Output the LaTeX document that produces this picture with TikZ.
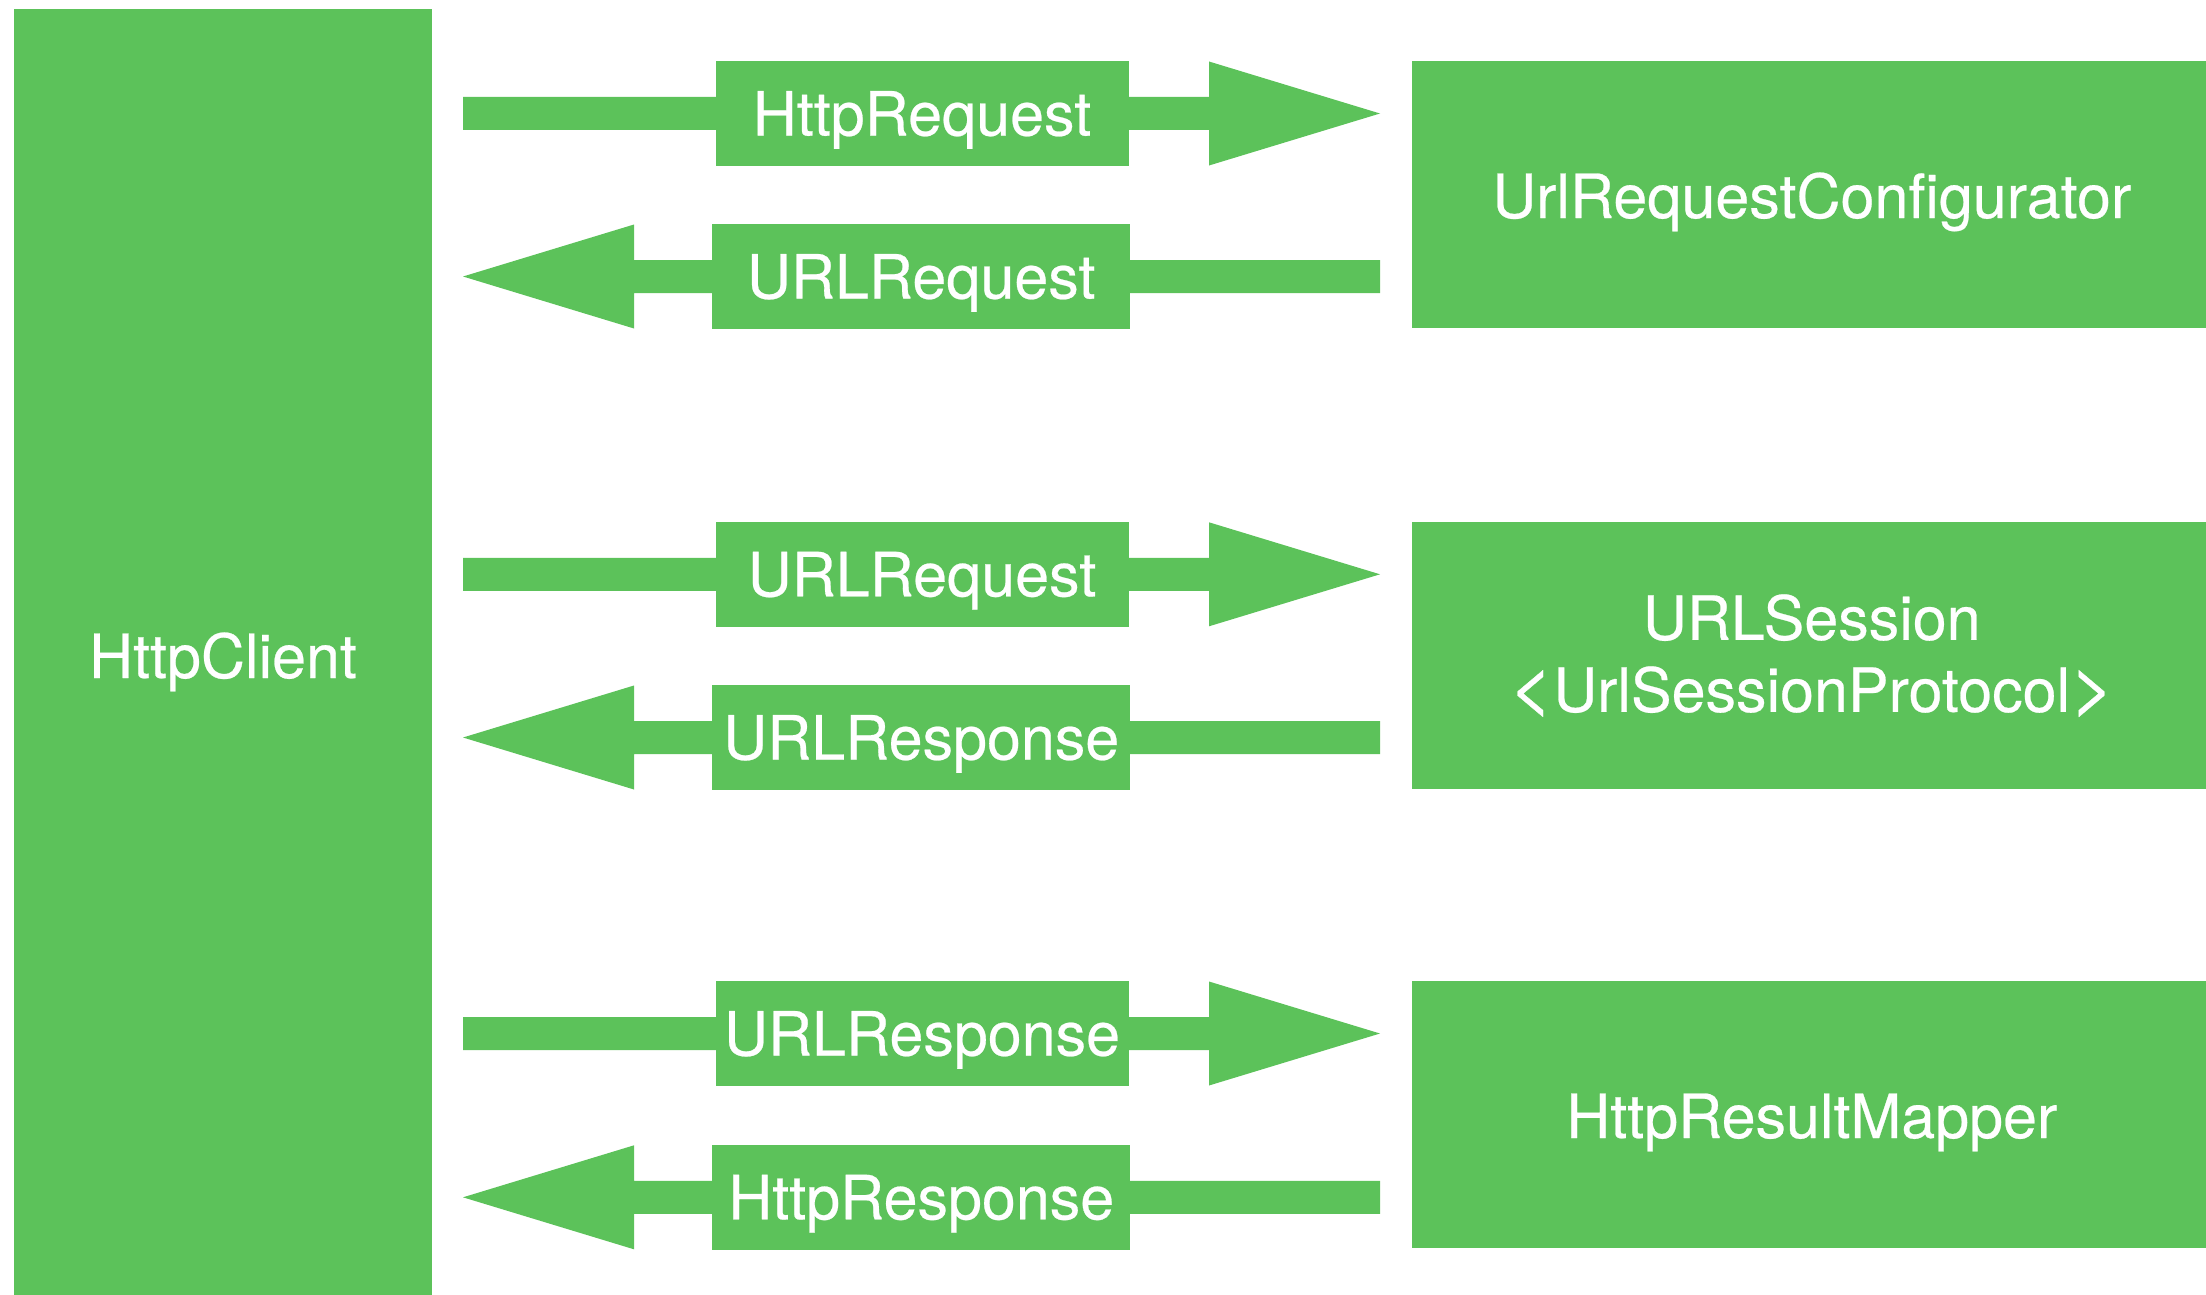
\documentclass[tikz,border=0pt]{standalone}
\usepackage{fontspec}
\setmainfont[FakeBold=0.4]{TeX Gyre Heros}
\usetikzlibrary{calc,backgrounds}
\definecolor{boxgreen}{HTML}{5CC25A}

% forward block arrow: from HttpClient towards a component, along a label
\newcommand\fwdarrow[2]{%
  \fill[boxgreen]
    ($(client.east |- #1.center)+(31,-16.5)$)
    -- ($(#2.west |- #1.center)+(-202.5,-16.5)$) -- ++(0,-35.5)
    -- ($(#2.west |- #1.center)+(-31.5,0)$) -- ++(-171,52) -- ++(0,-35.5)
    -- ($(client.east |- #1.center)+(31,16.5)$) -- cycle;}
% backward block arrow: from a component back to HttpClient
\newcommand\backarrow[2]{%
  \fill[boxgreen]
    ($(client.east |- #1.center)+(31,0)$) -- ++(171,-52) -- ++(0,35.5)
    -- ($(#2.west |- #1.center)+(-31.5,-16.5)$) -- ++(0,33)
    -- ($(client.east |- #1.center)+(202,16.5)$) -- ++(0,35.5) -- cycle;}

\tikzset{
  boxbase/.style={fill=boxgreen, text=white, inner sep=0pt, outer sep=0pt,
    font=\fontsize{61}{72}\selectfont},
  capbox/.style={boxbase, text height=44pt, text depth=0pt},
  fwdlabel/.style={capbox, minimum width=413pt, minimum height=105pt},
  backlabel/.style={capbox, minimum width=418.4pt, minimum height=105pt},
  component/.style={minimum width=800.5pt, minimum height=266.7pt},
  comptext/.style={capbox, component, text height=47.3pt},
}

\begin{document}
\begin{tikzpicture}[x=1pt, y=-1pt]
\useasboundingbox (0,0) rectangle (2206,1295);

% client column
\node[capbox, text height=50pt, minimum width=418pt, minimum height=1288pt] (client) at (223,653) {HttpClient};

% components on the right
\node[comptext] (cfg) at (1811.75,194.35) {UrlRequestConfigurator};
\node[boxbase, component, align=center] (sess) at (1811.75,655.6) {URLSession\\\scalebox{1.25}[1.2]{\textless}UrlSessionProtocol\scalebox{1.25}[1.2]{\textgreater}};
\node[comptext] (mapper) at (1811.75,1114.35) {HttpResultMapper};

% message labels
\node[fwdlabel]  (l1) at (922,113.5)    {HttpRequest};
\node[backlabel] (l2) at (921.2,276.5)  {URLRequest};
\node[fwdlabel]  (l3) at (922,574.3)    {URLRequest};
\node[backlabel] (l4) at (921.2,737.5)  {URLResponse};
\node[fwdlabel]  (l5) at (922,1033.5)   {URLResponse};
\node[backlabel] (l6) at (921.2,1197.3) {HttpResponse};

% block arrows behind the labels
\begin{scope}[on background layer]
  \fwdarrow{l1}{cfg}
  \backarrow{l2}{cfg}
  \fwdarrow{l3}{sess}
  \backarrow{l4}{sess}
  \fwdarrow{l5}{mapper}
  \backarrow{l6}{mapper}
\end{scope}
\end{tikzpicture}
\end{document}
